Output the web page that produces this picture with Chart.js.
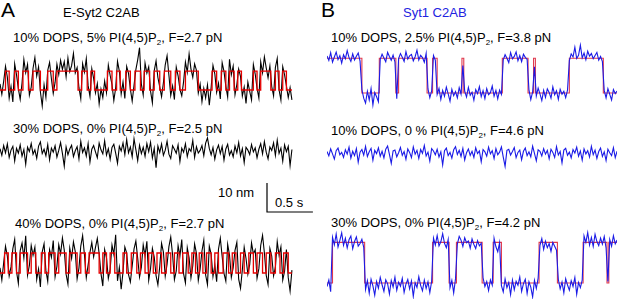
<!DOCTYPE html>
<html><head><meta charset="utf-8">
<script src="https://cdn.jsdelivr.net/npm/chart.js@4"></script>
<style>
html,body{margin:0;padding:0;background:#fff;}
#fig{position:relative;width:617px;height:299px;overflow:hidden;font-family:"Liberation Sans",Arial,sans-serif;color:#000;}
.t{position:absolute;white-space:nowrap;font-size:13px;line-height:13px;}
.big{font-size:21px;line-height:21px;}
canvas{position:absolute;}
sub{font-size:8px;vertical-align:-3px;line-height:0;}
</style></head><body>
<div id="fig">
 <div class="t big" style="left:1px;top:-1px">A</div>
 <div class="t" style="left:63px;top:6px">E-Syt2 C2AB</div>
 <div class="t big" style="left:321px;top:-1px">B</div>
 <div class="t" style="left:403px;top:6px;color:#2222e0">Syt1 C2AB</div>
 <div class="t" style="left:13px;top:31px">10% DOPS, 5% PI(4,5)P<sub>2</sub>, F=2.7 pN</div>
 <div class="t" style="left:13px;top:122px">30% DOPS, 0% PI(4,5)P<sub>2</sub>, F=2.5 pN</div>
 <div class="t" style="left:15px;top:217px">40% DOPS, 0% PI(4,5)P<sub>2</sub>, F=2.7 pN</div>
 <div class="t" style="left:331px;top:31px">10% DOPS, 2.5% PI(4,5)P<sub>2</sub>, F=3.8 pN</div>
 <div class="t" style="left:331px;top:124px">10% DOPS, 0 % PI(4,5)P<sub>2</sub>, F=4.6 pN</div>
 <div class="t" style="left:331px;top:216px">30% DOPS, 0% PI(4,5)P<sub>2</sub>, F=4.2 pN</div>
 <div class="t" style="left:218px;top:186px">10 nm</div>
 <div class="t" style="left:275px;top:196px">0.5 s</div>
</div>
<script>
// ---- data (time step between samples, seconds; extensions in nm) ----
const DT = 0.02;
const SCALE_NM = 10, SCALE_S = 0.5;

// A1: E-Syt2, 10% DOPS, 5% PI(4,5)P2
const a1Trace = [2.1,-1.5,3.0,8.2,4.5,-2.8,1.2,-4.1,9.0,5.2,
0.5,-3.2,2.4,10.5,6.0,8.8,-1.8,1.0,7.5,11.2,
4.8,8.0,-0.6,-5.5,1.8,-2.5,6.8,9.5,3.9,-1.2,
2.6,8.9,5.4,10.2,7.1,9.8,4.6,11.0,6.3,8.4,
12.6,5.9,7.7,0.8,-3.0,9.1,6.2,10.8,1.5,-2.2,
7.4,4.0,-1.0,2.2,-4.8,0.3,-2.6,3.1,-0.9,8.6,
5.0,1.9,-3.6,0.7,9.9,6.5,-1.4,2.8,-2.9,8.1,
5.7,0.4,-3.8,1.6,7.0,10.4,14.6,2.0,-1.7,9.3,
5.8,8.0,-0.4,-4.4,6.6,10.0,4.3,1.1,-2.3,2.5,
8.7,11.8,5.1,-1.9,1.4,-3.3,7.9,4.9,0.2,-2.0,
2.9,9.6,6.1,12.4,7.3,4.4,9.0,6.8,-1.1,2.0,
-4.0,0.6,-2.7,1.7,-5.2,0.9,8.5,5.6,-0.8,2.3,
-3.1,9.4,6.4,1.3,-2.4,10.6,5.3,8.2,-1.6,1.9,
7.2,4.7,-2.1,1.0,-4.6,2.7,-0.5,-3.4,8.8,5.5,
0.6,-2.8,9.7,6.0,11.4,7.6,4.2,8.3,1.2,-2.0,
7.8,10.9,0.0,-3.5,8.0,5.2,1.4,-2.6,0.8,-3.4];
const a1FitT = [0,0.06,0.10,0.16,0.20,0.25,0.31,0.36,0.44,0.52,0.58,0.62,0.85,0.89,0.95,0.99,1.03,1.17,1.22,1.27,1.31,1.37,1.42,1.47,1.53,1.57,1.63,1.68,1.74,1.79,1.86,1.91,1.96,2.02,2.16,2.31,2.36,2.41,2.46,2.50,2.55,2.59,2.63,2.76,2.80,2.84,2.95,3.00,3.04,3.08,3.12,3.18];
const a1FitS = [0,1,0,1,0,1,0,1,0,1,0,1,0,1,0,1,0,1,0,1,0,1,0,1,0,1,0,1,0,1,0,1,0,1,0,1,0,1,0,1,0,1,0,1,0,1,0,1,0,1,0,0];
const a1Levels = [0, 6.5];

// A2: E-Syt2, 30% DOPS, 0% PI(4,5)P2
const a2Trace = [0.8,-1.5,1.9,-0.6,2.4,-2.2,0.3,1.6,-3.4,0.9,
-0.7,2.1,-1.8,0.5,-4.6,1.3,-0.2,2.6,-1.1,0.4,
-2.5,1.7,3.1,-0.9,0.6,-1.6,2.2,-3.0,1.0,-0.4,
1.8,-2.1,0.2,2.9,-0.8,-5.2,1.4,-1.3,0.7,2.0,
-1.9,0.1,1.5,-2.7,3.3,-0.5,1.1,-1.7,2.5,-3.8,
0.6,1.9,-0.3,-2.3,2.7,0.4,-1.0,3.5,-1.4,0.8,
-2.9,1.2,2.3,-0.7,-4.2,1.6,0.0,2.8,-1.2,3.9,
-0.6,1.4,-2.0,4.2,0.5,-3.3,2.0,-0.9,1.3,-1.8,
2.6,-0.2,3.0,-2.4,0.9,-5.8,1.7,-0.5,2.4,-1.5,
0.3,3.4,-1.1,-2.6,1.8,0.6,-0.8,2.1,-3.6,1.0,
-0.4,2.5,-1.9,0.8,-0.1,3.6,-2.2,1.5,-0.7,0.2,
1.9,-1.6,2.7,4.5,0.9,-1.3,1.2,-2.8,0.4,2.0,
-0.9,1.6,-3.1,0.7,2.3,-1.4,0.1,-2.0,1.7,-0.6,
2.9,-1.7,0.8,-4.0,1.3,0.3,-1.2,2.2,-0.3,1.1,
-2.3,0.6,2.5,-1.0,3.2,-0.4,-2.7,1.4,0.2,2.8,
-1.5,3.7,-0.8,1.0,-3.5,2.1,-0.2,1.6,-5.0,0.5];

// A3: E-Syt2, 40% DOPS, 0% PI(4,5)P2
const a3Trace = [1.8,-2.4,3.5,9.2,5.8,-1.0,2.1,8.4,11.6,0.5,
-3.6,7.7,10.3,5.2,12.8,-0.8,2.6,9.5,6.1,8.9,
-2.2,1.4,-4.8,7.3,10.1,0.9,-2.9,8.0,5.4,11.2,
-1.3,2.3,9.8,6.6,12.1,7.9,-0.4,-3.8,8.6,5.0,
10.7,7.4,-2.0,1.7,9.3,12.9,6.2,-1.6,2.8,7.1,
10.5,5.6,8.8,11.9,6.7,-0.2,-4.5,8.1,5.3,-1.9,
1.2,9.6,6.4,13.2,-2.7,1.9,-5.6,0.4,9.0,6.9,
-0.6,-3.1,2.4,8.3,11.0,5.1,-1.4,2.0,9.7,6.0,
10.9,-2.5,1.6,8.5,5.5,-0.9,-4.1,2.2,10.2,7.2,
-1.1,3.0,9.1,12.4,6.3,-2.3,0.7,9.4,5.9,11.5,
-0.3,-3.4,8.7,5.2,-1.7,2.5,10.0,6.8,-2.6,1.3,
7.6,11.3,-0.7,-4.0,9.2,6.5,-1.2,2.7,-3.0,8.2,
12.0,5.7,-0.1,-2.8,9.9,6.2,-1.5,1.8,7.8,10.6,
-2.1,-5.3,1.1,8.9,5.0,-0.4,2.9,10.4,6.6,8.0,
-1.8,1.5,9.5,13.0,7.0,-0.8,-3.9,8.4,5.8,-1.0,
2.0,10.8,6.1,9.0,-2.4,0.6,8.1,-1.6,-6.2,1.0];
const a3FitT = [0,0.05,0.09,0.13,0.18,0.22,0.30,0.34,0.39,0.45,0.49,0.53,0.60,0.64,0.72,0.76,0.84,0.88,0.93,0.97,1.08,1.12,1.16,1.20,1.25,1.34,1.38,1.43,1.49,1.53,1.58,1.62,1.67,1.71,1.76,1.81,1.86,1.90,1.95,1.99,2.05,2.09,2.13,2.17,2.21,2.25,2.30,2.34,2.38,2.43,2.49,2.53,2.57,2.62,2.66,2.71,2.76,2.80,2.86,2.90,2.95,3.00,3.05,3.09,3.14,3.18];
const a3FitS = [0,1,0,1,0,1,0,1,0,1,0,1,0,1,0,1,0,1,0,1,0,1,0,1,0,1,0,1,0,1,0,1,0,1,0,1,0,1,0,1,0,1,0,1,0,1,0,1,0,1,0,1,0,1,0,1,0,1,0,1,0,1,0,1,0,0];
const a3Levels = [0, 6.9];

// B1: Syt1, 10% DOPS, 2.5% PI(4,5)P2
const b1Trace = [12.8,11.2,13.9,10.6,12.4,14.1,11.5,12.9,10.3,13.2,
11.8,14.6,12.2,10.9,13.5,11.4,12.7,13.8,11.0,
1.2,-1.8,-3.5,0.6,-2.4,1.5,-4.1,0.2,-1.3,-3.0,
11.6,13.4,12.1,10.8,14.0,12.6,11.3,13.1,10.7,
-2.0,
11.9,13.6,12.3,10.9,14.3,11.7,12.8,13.3,11.1,12.5,14.8,11.4,13.0,12.2,10.6,13.7,
1.4,-1.6,0.7,
12.9,11.3,
-0.5,1.6,-2.2,0.9,-1.1,2.0,-0.3,-2.8,1.3,-0.9,0.5,-1.7,1.8,-0.4,
9.5,
0.6,-1.4,1.9,-0.8,0.3,-2.5,1.2,-0.2,2.2,-1.3,0.8,-1.9,1.5,-0.6,0.1,2.4,-1.1,0.9,-2.0,1.0,-0.5,
11.4,13.2,12.0,10.5,13.9,11.8,12.6,14.2,11.1,12.9,10.8,13.4,12.3,11.6,
1.1,-2.3,0.4,
9.0,
-1.0,1.7,-0.3,-2.6,0.9,-1.5,1.4,0.2,-1.8,2.1,-0.6,0.8,-2.2,1.3,-0.4,0.6,-1.6,1.0,
11.2,13.5,12.4,15.8,11.9,13.0,16.5,12.1,13.8,11.5,14.4,12.7,13.6,11.8,12.9,14.0,11.3,12.6,10.8,
0.9,-1.7,1.5,-0.5,-2.4,1.2,-0.2,0.7,-1.3];
const b1FitT = [0,0.38,0.57,0.75,0.78,1.09,1.15,1.20,1.47,1.49,1.91,2.19,2.25,2.27,2.64,3.01,3.18];
const b1FitS = [1,0,1,0,1,0,1,0,1,0,1,0,1,0,1,0,0];
const b1Levels = [0, 12];

// B2: Syt1, 10% DOPS, 0% PI(4,5)P2
const b2Trace = [0.5,-1.0,1.4,-0.3,-2.1,0.8,1.7,-0.6,0.2,-1.5,
1.1,-0.4,2.0,-1.8,0.6,-0.9,1.5,-3.2,0.3,1.2,
-0.7,2.3,-1.2,0.4,1.6,-2.5,0.9,-0.2,1.8,-1.1,
0.6,-1.7,1.3,2.4,-0.5,-3.6,0.7,1.0,-1.3,0.1,
1.9,-0.8,0.5,-2.2,1.4,0.2,-1.6,2.1,-0.4,0.9,
-1.9,1.2,-0.1,2.6,-1.0,0.3,-2.8,1.5,0.7,-0.6,
1.3,-1.4,0.4,-4.1,0.8,1.7,-0.9,0.2,-1.8,1.1,
2.2,-0.5,0.9,-1.2,1.6,-2.4,0.1,1.4,-0.8,0.6,
-1.5,1.8,-0.2,0.7,-3.0,1.2,0.4,-1.1,2.0,-0.3,
0.8,-1.9,1.5,-0.6,0.3,2.1,-1.4,-4.6,0.9,1.3,
-0.7,0.5,1.9,-1.6,0.2,1.0,-2.3,0.6,1.7,-0.9,
0.4,-1.3,2.4,-0.1,-2.7,1.1,0.6,-1.0,1.5,-0.4,
0.9,-2.0,1.3,0.2,-1.5,2.2,-0.7,0.5,-3.4,1.0,
1.6,-0.8,0.3,-1.7,1.2,0.0,2.0,-1.1,0.7,-2.5,
1.4,-0.3,0.8,-1.4,2.3,-0.6,1.0,-1.9,0.5,1.7,
-1.2,0.4,-2.6,1.3,0.1,-0.9,1.8,-1.6,0.6,-0.2];

// B3: Syt1, 30% DOPS, 0% PI(4,5)P2
const b3Trace = [-1.2,1.0,-3.0,
15.8,13.2,16.9,12.4,14.7,17.3,13.0,15.4,12.1,14.9,16.2,11.8,14.3,15.9,12.7,13.6,15.1,12.3,
-2.2,0.8,-3.5,1.3,-1.0,-4.2,0.5,-1.8,1.9,-0.6,-2.9,1.1,-0.2,-3.8,0.9,-1.4,2.0,-2.5,0.3,-1.1,1.6,-3.2,-0.4,1.2,-2.0,0.7,-4.6,0.1,-1.5,2.2,-0.8,-2.7,1.0,-1.9,0.4,-3.3,0.6,
15.5,13.1,16.4,12.8,14.2,17.0,13.7,12.2,15.0,
-1.6,0.9,-3.4,1.5,
13.4,16.1,14.8,12.6,15.6,13.9,14.5,12.0,15.2,13.3,11.9,14.6,12.8,13.7,
1.8,-1.2,0.5,-2.6,1.1,-0.7,
15.4,12.5,10.8,13.9,
-0.9,-3.1,1.4,-1.6,0.2,-4.0,1.0,-2.3,0.6,-0.8,2.1,-2.9,-0.2,1.3,-3.6,0.4,-1.4,-4.8,0.9,-1.9,1.7,
13.0,15.3,11.6,14.4,12.2,13.6,10.9,14.0,12.7,11.3,
1.2,-2.0,0.3,-3.4,1.5,-0.7,-2.5,0.8,-1.2,1.9,-3.9,0.2,-1.6,1.0,
16.2,14.0,17.4,13.1,15.7,12.6,16.8,14.3,12.9,15.5,13.4,16.0,12.1,
0.5,
15.0,12.7,16.3,13.5,14.8,12.4];
const b3FitT = [0,0.06,0.41,1.15,1.33,1.41,1.69,1.81,1.90,2.31,2.51,2.79,3.05,3.07,3.18];
const b3FitS = [0,1,0,1,0,1,0,1,0,1,0,1,0,1,1];
const b3Levels = [0, 14];

// ---- layout & style ----
const PX_S = 91.8, PX_NM = 2.9;
const BLACK = '#000000', RED_A = '#e60000', BLUE = '#1a1ae6', RED_B = '#e03a4e';

function pts(arr){ return arr.map((v,i)=>({x:i*DT, y:v})); }
function fit(T,S,L){ return T.map((t,k)=>({x:t, y:L[S[k]]})); }

function mk(box, datasets, x0px){
  const c = document.createElement('canvas');
  c.width = box.w; c.height = box.h;
  c.style.left = box.left+'px'; c.style.top = box.top+'px';
  document.getElementById('fig').appendChild(c);
  const ymax = (box.y0 - box.top)/PX_NM, ymin = ymax - box.h/PX_NM;
  const xmin = -(x0px||0)/PX_S, xmax = xmin + box.w/PX_S;
  new Chart(c, {
    type:'line',
    data:{datasets},
    options:{
      responsive:false, animation:false, events:[], devicePixelRatio:1,
      layout:{padding:0},
      plugins:{legend:{display:false}, tooltip:{enabled:false}},
      scales:{
        x:{type:'linear', display:false, min:xmin, max:xmax},
        y:{type:'linear', display:false, min:ymin, max:ymax}
      },
      elements:{point:{radius:0}, line:{tension:0}}
    }
  });
}
// lower "order" is drawn on top
function traceSet(vals,color,w,ord){ return {data:pts(vals), borderColor:color, borderWidth:w, fill:false, order:ord, pointRadius:0}; }
// stepped 'before': each fit level holds from its time until the next transition time
function fitSet(T,S,L,color,w,ord){ return {data:fit(T,S,L), borderColor:color, borderWidth:w, fill:false, stepped:'before', order:ord, pointRadius:0}; }

mk({left:0, top:44, w:293, h:70, y0:90}, [fitSet(a1FitT,a1FitS,a1Levels,RED_A,1.3,1), traceSet(a1Trace,BLACK,1.1,2)]);
mk({left:0, top:133, w:293, h:44, y0:151}, [traceSet(a2Trace,BLACK,1.1,1)]);
mk({left:0, top:228, w:293, h:71, y0:273}, [fitSet(a3FitT,a3FitS,a3Levels,RED_A,1.3,1), traceSet(a3Trace,BLACK,1.1,2)]);
mk({left:327, top:42, w:290, h:70, y0:93}, [fitSet(b1FitT,b1FitS,b1Levels,RED_B,1.1,2), traceSet(b1Trace,BLUE,1.1,1)]);
mk({left:327, top:136, w:290, h:44, y0:153}, [traceSet(b2Trace,BLUE,1.1,1)]);
mk({left:327, top:228, w:290, h:71, y0:283}, [fitSet(b3FitT,b3FitS,b3Levels,RED_B,1.1,2), traceSet(b3Trace,BLUE,1.1,1)]);
// scale bar
mk({left:260, top:176, w:62, h:42, y0:212}, [{data:[{x:0,y:SCALE_NM},{x:0,y:0},{x:SCALE_S,y:0}], borderColor:BLACK, borderWidth:1.2, fill:false, pointRadius:0}], 7);
</script>
</body></html>
